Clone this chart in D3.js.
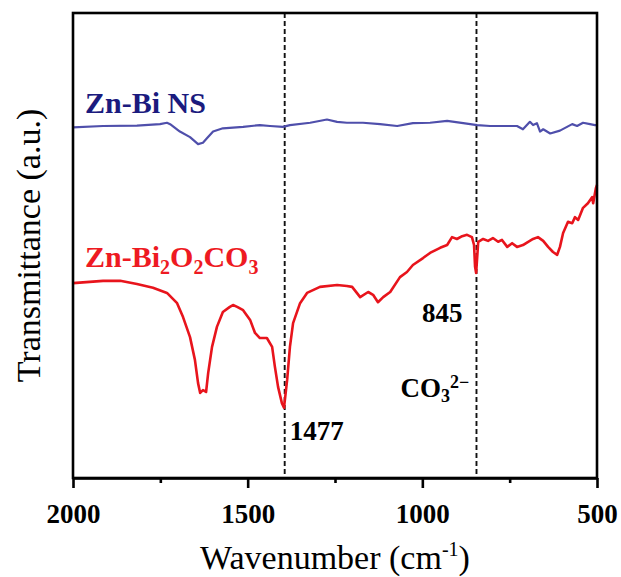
<!DOCTYPE html>
<html>
<head>
<meta charset="utf-8">
<script src="https://cdn.jsdelivr.net/npm/d3@7"></script>
<style>
  body { margin: 0; background: #fff; }
  text { font-family: "Liberation Serif", "Times New Roman", serif; }
</style>
</head>
<body>
<div id="graph"></div>
<script>
// Zn-Bi NS spectrum (wavenumber, transmittance a.u.)
var wnNS = [2000, 1914, 1817, 1751, 1731, 1722, 1694, 1665, 1642, 1628, 1616, 1599, 1571, 1513, 1465,
  1436, 1399, 1379, 1321, 1273, 1244, 1216, 1170, 1121, 1072, 1027, 978, 929, 883, 843, 806, 757, 729,
  712, 692, 683, 672, 663, 654, 634, 606, 571, 557, 540, 520, 506, 500];
var tNS = [75.4, 75.7, 75.8, 76.1, 76.4, 76.1, 74.5, 73.3, 71.8, 72.1, 73.1, 74.5, 75.2, 75.5, 75.9,
  75.7, 75.5, 75.9, 76.4, 77.1, 76.6, 76.4, 76.4, 76.1, 75.7, 76.3, 76.4, 76.8, 76.3, 75.9, 75.7, 75.7, 75.7,
  75.0, 76.6, 75.9, 76.3, 74.5, 75.0, 74.1, 74.7, 76.1, 75.7, 76.4, 76.1, 75.9, 75.9];

// Zn-Bi2O2CO3 spectrum
var wnBOC = [2000, 1914, 1865, 1817, 1771, 1731, 1702, 1685, 1665, 1651, 1642, 1636, 1628, 1619, 1613,
  1602, 1588, 1571, 1551, 1542, 1530, 1513, 1493, 1479, 1465, 1445, 1430, 1422, 1413, 1402, 1396, 1387,
  1379, 1370, 1350, 1330, 1293, 1244, 1216, 1201, 1178, 1155, 1141, 1127, 1112, 1092, 1064, 1044, 1027,
  998, 978, 949, 929, 915, 901, 886, 872, 858, 852, 849, 846, 840, 826, 812, 798, 783, 772, 757, 743,
  729, 712, 697, 683, 669, 654, 640, 626, 614, 606, 597, 583, 571, 563, 554, 540, 526, 514, 511, 503, 500];
var tBOC = [41.9, 42.4, 42.4, 41.7, 40.9, 39.8, 37.6, 34.6, 30.3, 25.4, 20.4, 18.3, 18.9, 18.5, 22.6,
  28.2, 32.5, 35.7, 36.8, 37.2, 36.8, 36.1, 34.0, 31.2, 30.1, 30.1, 28.2, 23.9, 19.6, 16.1, 15.1, 21.1,
  28.2, 33.3, 37.6, 39.8, 41.1, 41.5, 41.3, 41.1, 38.9, 40.0, 39.4, 37.8, 38.9, 40.0, 43.2, 44.3, 45.8,
  47.3, 48.4, 49.5, 50.1, 51.8, 51.4, 52.0, 52.3, 51.8, 50.1, 45.4, 44.1, 50.8, 51.4, 51.0, 51.6, 50.8, 51.2, 49.7, 50.5,
  49.7, 50.1, 50.8, 51.4, 51.8, 51.0, 49.7, 48.6, 48.0, 49.7, 52.7, 55.1, 54.8, 56.1, 55.5, 58.1, 59.1, 60.4, 59.1, 62.4, 63.0];

var markWn = [1394, 845];
var markLabels = ["1477", "845"];
var xTicks = [2000, 1500, 1000, 500];
var xMinorTicks = [1750, 1250, 750];

var width = 621, height = 577;
var margins = {top: 13, right: 24, bottom: 99, left: 73};

var svg = d3.select('#graph')
  .append('svg')
  .attr('width', width)
  .attr('height', height);

var x = d3.scaleLinear()
  .domain([2000, 500])
  .range([margins.left, width - margins.right]);

var y = d3.scaleLinear()
  .domain([0, 100])
  .range([height - margins.bottom, margins.top]);

var lineFunc = d3.line()
  .x(function(d) { return x(d[0]); })
  .y(function(d) { return y(d[1]); });

/* dashed marker lines */
svg.selectAll('.mark')
  .data(markWn)
  .enter().append('line')
  .attr('class', 'mark')
  .attr('x1', function(d) { return x(d); })
  .attr('x2', function(d) { return x(d); })
  .attr('y1', y(100))
  .attr('y2', y(0))
  .attr('stroke', '#111')
  .attr('stroke-width', 1.9)
  .attr('stroke-dasharray', '5,3');

/* spectra */
svg.append('path')
  .attr('d', lineFunc(d3.zip(wnNS, tNS)))
  .attr('fill', 'none')
  .attr('stroke', '#4f4fab')
  .attr('stroke-width', 2.2)
  .attr('stroke-linejoin', 'round');

svg.append('path')
  .attr('d', lineFunc(d3.zip(wnBOC, tBOC)))
  .attr('fill', 'none')
  .attr('stroke', '#e8141c')
  .attr('stroke-width', 2.6)
  .attr('stroke-linejoin', 'round');

/* frame */
svg.append('rect')
  .attr('x', x(2000))
  .attr('y', y(100))
  .attr('width', x(500) - x(2000))
  .attr('height', y(0) - y(100))
  .attr('fill', 'none')
  .attr('stroke', '#000')
  .attr('stroke-width', 2.6);

/* x axis */
var xAxis = svg.append('g')
  .attr('transform', 'translate(0,' + y(0) + ')')
  .call(d3.axisBottom(x).tickValues(xTicks).tickSize(10).tickSizeOuter(0).tickPadding(16).tickFormat(d3.format('d')));
xAxis.select('.domain').attr('stroke-width', 2.6);
xAxis.selectAll('.tick line').attr('stroke-width', 2.6);
xAxis.selectAll('.tick text')
  .attr('font-family', '"Liberation Serif", "Times New Roman", serif')
  .attr('font-size', 27)
  .attr('font-weight', 'bold')
  .attr('fill', '#000');

var xMinor = svg.append('g')
  .attr('transform', 'translate(0,' + y(0) + ')')
  .call(d3.axisBottom(x).tickValues(xMinorTicks).tickSize(5).tickSizeOuter(0).tickFormat(''));
xMinor.select('.domain').remove();
xMinor.selectAll('.tick line').attr('stroke-width', 2.6);

/* axis titles */
var xTitle = svg.append('text')
  .attr('x', (x(2000) + x(500)) / 2)
  .attr('y', 569)
  .attr('text-anchor', 'middle')
  .attr('font-size', 34)
  .attr('fill', '#000');
xTitle.append('tspan').text('Wavenumber (cm');
xTitle.append('tspan').attr('font-size', 20).attr('dy', -13).text('-1');
xTitle.append('tspan').attr('dy', 13).text(')');

svg.append('text')
  .attr('transform', 'translate(40,' + ((y(0) + y(100)) / 2) + ') rotate(-90)')
  .attr('text-anchor', 'middle')
  .attr('font-size', 34)
  .attr('fill', '#000')
  .text('Transmittance (a.u.)');

/* series labels */
svg.append('text')
  .attr('x', x(2000) + 12)
  .attr('y', y(78.5))
  .attr('font-size', 30)
  .attr('font-weight', 'bold')
  .attr('fill', '#1b1b7e')
  .text('Zn-Bi NS');

var redLabel = svg.append('text')
  .attr('x', x(2000) + 12)
  .attr('y', y(45.4))
  .attr('font-size', 30)
  .attr('font-weight', 'bold')
  .attr('fill', '#ee1a22');
[['Zn-Bi', 0], ['2', 1], ['O', 0], ['2', 1], ['CO', 0], ['3', 1]].forEach(function(p, i, arr) {
  var prev = i > 0 ? arr[i - 1][1] : 0;
  redLabel.append('tspan')
    .attr('font-size', p[1] ? 20 : 30)
    .attr('dy', (p[1] - prev) * 7)
    .text(p[0]);
});

/* peak labels */
svg.append('text')
  .attr('x', x(markWn[0]) + 5)
  .attr('y', y(8.2))
  .attr('font-size', 27)
  .attr('font-weight', 'bold')
  .text(markLabels[0]);

svg.append('text')
  .attr('x', x(markWn[1]) - 14)
  .attr('y', y(33.5))
  .attr('text-anchor', 'end')
  .attr('font-size', 27)
  .attr('font-weight', 'bold')
  .text(markLabels[1]);

var co3 = svg.append('text')
  .attr('x', x(markWn[1]) - 76)
  .attr('y', y(17.4))
  .attr('font-size', 27)
  .attr('font-weight', 'bold');
co3.append('tspan').text('CO');
co3.append('tspan').attr('font-size', 18).attr('dy', 5).text('3');
co3.append('tspan').attr('font-size', 18).attr('dy', -14).text('2\u2212');
</script>
</body>
</html>
